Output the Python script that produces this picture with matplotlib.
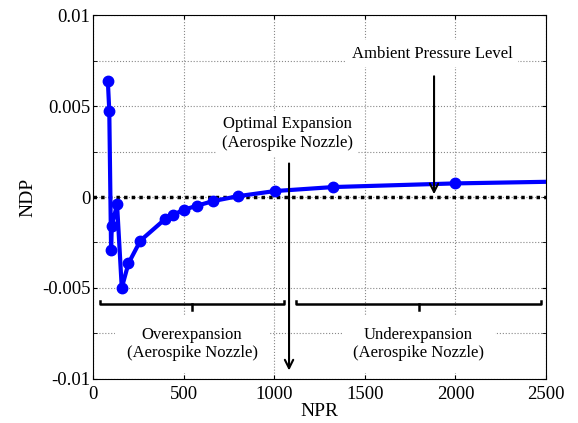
import numpy as np
import matplotlib
matplotlib.use('Agg')
import matplotlib.pyplot as plt

plt.rcParams['font.family'] = ['Liberation Serif', 'DejaVu Serif']

# NPR vs non-dimensional pressure difference
npr = [80, 88, 98, 102, 131, 157, 194, 260, 398, 442, 501, 571, 663, 801, 1004, 1326, 1998, 4000]
ndp = [0.0064, 0.00475, -0.0029, -0.0016, -0.0004, -0.005, -0.00365, -0.0024,
       -0.0012, -0.00097, -0.0007, -0.00048, -0.00022, 0.00005, 0.00033, 0.00055, 0.00075, 0.0011]

yticks = [-0.01, -0.005, 0, 0.005, 0.01]
ylabels = ['-0.01', '-0.005', '0', '0.005', '0.01']
xticks = [0, 500, 1000, 1500, 2000, 2500]

fig = plt.figure(figsize=(5.78, 4.23), dpi=100)
ax = fig.add_axes([0.1615, 0.1047, 0.783, 0.859])

ax.plot(npr, ndp, 'b-', lw=3, marker='o', ms=7.5, mfc='b', mec='b', zorder=4)
ax.axhline(0, color='k', ls=(0, (1, 1.2)), lw=2.5, zorder=3)

ax.set_xlim(0, 2500)
ax.set_ylim(-0.01, 0.01)
ax.set_xticks(xticks)
ax.set_yticks(yticks)
ax.set_yticklabels(ylabels)
ax.set_yticks(np.arange(-0.0075, 0.01, 0.005), minor=True)
ax.grid(True, which='both', color='#888888', ls=':', lw=0.8)
ax.tick_params(which='both', direction='in', top=True, right=True, labelsize=13.5, length=3, pad=2)
ax.tick_params(axis='x', pad=5)
ax.set_xlabel('NPR', fontsize=14, labelpad=0)
ax.set_ylabel('NDP', fontsize=14, labelpad=4)

box = dict(facecolor='white', edgecolor='none', pad=4)
ax.text(1871, 0.0079, 'Ambient Pressure Level', ha='center', va='center', fontsize=12, bbox=box, zorder=5)
ax.annotate('', xy=(1882, 0.0), xytext=(1882, 0.0068),
            arrowprops=dict(arrowstyle='->', lw=1.5, color='k', mutation_scale=15), zorder=5)
ax.text(1070, 0.0035, 'Optimal Expansion\n(Aerospike Nozzle)', ha='center', va='center',
        fontsize=12, bbox=box, linespacing=1.2, zorder=5)
ax.annotate('', xy=(1081, -0.0097), xytext=(1081, 0.002),
            arrowprops=dict(arrowstyle='->', lw=1.5, color='k', mutation_scale=15), zorder=5)

# curly-style brackets under the curve
def bracket(x0, x1, xc, y):
    ax.plot([x0, x0, x1, x1], [y + 0.0002, y, y, y + 0.0002], 'k-', lw=1.8, zorder=5)
    ax.plot([xc, xc], [y, y - 0.0003], 'k-', lw=1.8, zorder=5)

bracket(37, 1054, 545, -0.0059)
bracket(1119, 2475, 1800, -0.0059)

box2 = dict(facecolor='white', edgecolor='none', pad=8)
ax.text(545, -0.0081, 'Overexpansion\n(Aerospike Nozzle)', ha='center', va='center',
        fontsize=12, bbox=box2, linespacing=1.2, zorder=5)
ax.text(1795, -0.0081, 'Underexpansion\n(Aerospike Nozzle)', ha='center', va='center',
        fontsize=12, bbox=box2, linespacing=1.2, zorder=5)

fig.savefig('out.png', dpi=100)
